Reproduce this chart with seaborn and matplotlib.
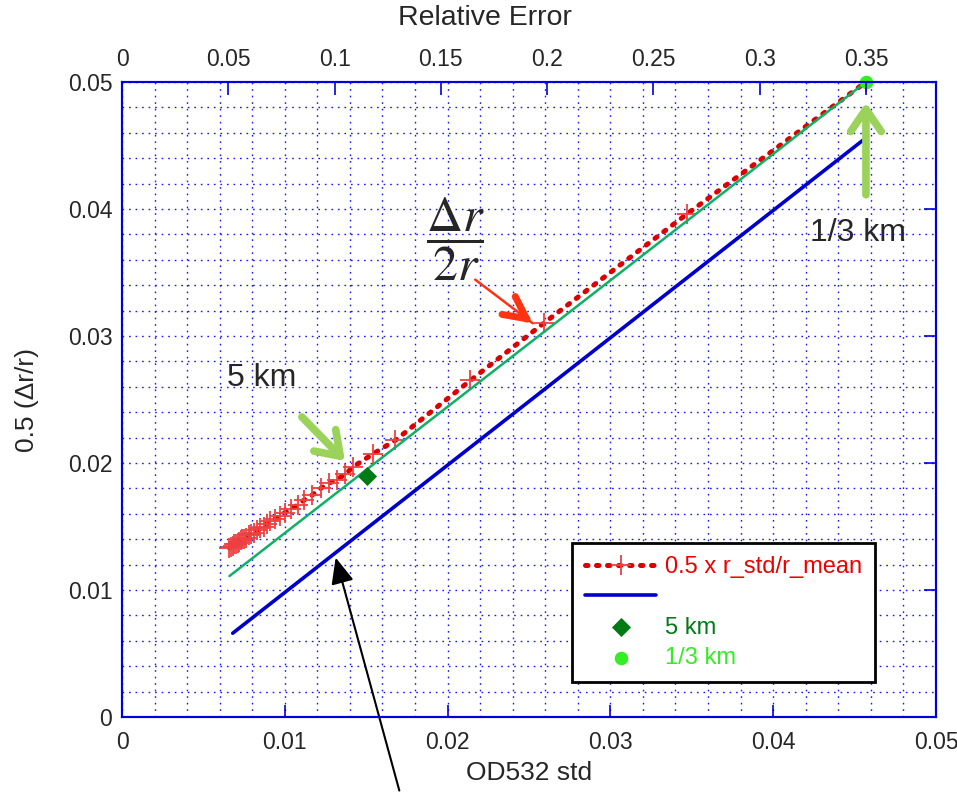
import matplotlib
matplotlib.use("Agg")
import matplotlib.pyplot as plt
import seaborn as sns

sns.set_style("white")
plt.rcParams["font.family"] = ["Liberation Sans", "DejaVu Sans"]

# values
red_x = [0.0066, 0.0067, 0.0068, 0.0069, 0.0070, 0.0071, 0.0072, 0.0073, 0.0074,
         0.0075, 0.0076, 0.0078, 0.0079, 0.0081, 0.0083, 0.0085, 0.0087, 0.0089,
         0.0091, 0.0094, 0.0097, 0.0100, 0.0104, 0.0108, 0.0112, 0.0117, 0.0122,
         0.0127, 0.0132, 0.0137, 0.0142, 0.0154, 0.0168, 0.0214, 0.0259, 0.0347,
         0.0457]
red_y = [0.0133, 0.0134, 0.0135, 0.0136, 0.0136, 0.0137, 0.0138, 0.0139, 0.0140,
         0.0140, 0.0141, 0.0143, 0.0144, 0.0145, 0.0147, 0.0149, 0.0150, 0.0152,
         0.0154, 0.0156, 0.0158, 0.0161, 0.0164, 0.0167, 0.0171, 0.0175, 0.0180,
         0.0184, 0.0187, 0.0191, 0.0197, 0.0207, 0.0218, 0.0265, 0.0310, 0.0396,
         0.0500]
blue_x = [0.0068, 0.0455]
blue_y = [0.0066, 0.0454]
green_x = [0.0066, 0.0457]
green_y = [0.0111, 0.0500]
km5_x = [0.01505]
km5_y = [0.0190]
km13_x = [0.0457]
km13_y = [0.0500]

bottom_ticks = [0, 0.01, 0.02, 0.03, 0.04, 0.05]
bottom_labels = ["0", "0.01", "0.02", "0.03", "0.04", "0.05"]
top_ticks = [0, 0.05, 0.1, 0.15, 0.2, 0.25, 0.3, 0.35]
top_labels = ["0", "0.05", "0.1", "0.15", "0.2", "0.25", "0.3", "0.35"]
grid_step = 0.002

fig = plt.figure(figsize=(9.57, 7.93), dpi=100)
ax = fig.add_axes([0.1275, 0.0958, 0.8505, 0.8008])

sns.lineplot(x=red_x, y=red_y, ax=ax, color="#dd0000", lw=3.6,
             linestyle=(0, (0.5, 1.7)), marker="+", markersize=15,
             mec="#ee4040", mew=1.3, sort=False)
red_line = ax.lines[-1]
red_line.set_dash_capstyle("round")
sns.lineplot(x=blue_x, y=blue_y, ax=ax, color="#0000cc", lw=2.6)
blue_line = ax.lines[-1]
sns.lineplot(x=green_x, y=green_y, ax=ax, color="#10b064", lw=1.8)
sns.scatterplot(x=km5_x, y=km5_y, ax=ax, marker="D", s=95, color="#007a14",
                edgecolor="#007a14", linewidth=0, zorder=5)
d_pts = ax.collections[-1]
sns.scatterplot(x=km13_x, y=km13_y, ax=ax, marker="o", s=95, color="#33ee22",
                edgecolor="#33ee22", linewidth=0, zorder=5, clip_on=False)
c_pts = ax.collections[-1]

ax.set_xlim(0, 0.05)
ax.set_ylim(0, 0.05)
ax.set_xticks(bottom_ticks)
ax.set_xticklabels(bottom_labels)
ax.set_yticks(bottom_ticks)
ax.set_yticklabels(bottom_labels)
minor = [i * grid_step for i in range(26)]
ax.set_xticks(minor, minor=True)
ax.set_yticks(minor, minor=True)
ax.grid(True, which="both", color="#1a1aee", lw=1.0, linestyle=(0, (1.2, 3.5)))
ax.set_axisbelow(True)
ax.tick_params(which="major", direction="in", length=9, width=1.2, color="#0000dd",
               labelsize=16.5, pad=10, right=True)
ax.tick_params(axis="y", pad=7)
ax.tick_params(which="minor", length=0)
for s in ax.spines.values():
    s.set_color("#0000dd")
    s.set_linewidth(1.5)
ax.set_xlabel("OD532 std", fontsize=19, labelpad=5)
ax.set_ylabel("0.5 (\u0394r/r)", fontsize=19, labelpad=21)

ax2 = ax.twiny()
ax2.set_xlim(0, 0.3829)
ax2.set_xticks(top_ticks)
ax2.set_xticklabels(top_labels)
ax2.tick_params(direction="in", length=9, width=1.2, color="#0000dd",
                labelsize=16.5, pad=8)
for s in ax2.spines.values():
    s.set_color("#0000dd")
    s.set_linewidth(1.5)
ax2.set_xlabel("Relative Error", fontsize=20.5, labelpad=11)
ax2.xaxis.set_label_coords(0.446, 1.0 + 51 / 635)
ax2.xaxis.label.set_va("bottom")
ax2.grid(False)

# annotations
ax.text(0.02045, 0.0376, r"$\dfrac{\Delta r}{2r}$", fontsize=36,
        math_fontfamily="stix", ha="center", va="center")
ax.annotate("", xy=(0.02537, 0.03087), xytext=(0.02156, 0.03457),
            arrowprops=dict(arrowstyle="-", color="#ff3311", lw=1.8))
ax.annotate("", xy=(0.02537, 0.03087), xytext=(0.0246, 0.0316),
            arrowprops=dict(arrowstyle="->,head_length=0.8,head_width=0.4",
                            color="#ff3311", lw=5, mutation_scale=20))
ax.text(0.0086, 0.0267, "5 km", fontsize=23, ha="center", va="center")
ax.annotate("", xy=(0.01382, 0.0200), xytext=(0.01093, 0.02378),
            arrowprops=dict(arrowstyle="->,head_length=0.8,head_width=0.55",
                            color="#9bd35a", lw=5.5, mutation_scale=20))
ax.text(0.0452, 0.0381, "1/3 km", fontsize=23, ha="center", va="center")
ax.annotate("", xy=(0.0457, 0.0486), xytext=(0.0457, 0.0409),
            arrowprops=dict(arrowstyle="->,head_length=0.8,head_width=0.55",
                            color="#9bd35a", lw=5.5, mutation_scale=20))
ax.annotate("", xy=(0.01308, 0.01276), xytext=(0.01708, -0.0060),
            annotation_clip=False,
            arrowprops=dict(arrowstyle="-|>,head_length=0.8,head_width=0.35",
                            color="black", lw=1.5, mutation_scale=20))

leg = ax.legend([red_line, blue_line, d_pts, c_pts],
                ["0.5 x r_std/r_mean", "", "5 km", "1/3 km"],
                loc="upper left", bbox_to_anchor=(0.553, 0.274), fontsize=17,
                frameon=True, fancybox=False, framealpha=1, edgecolor="black",
                handlelength=3.0, handletextpad=0.4, labelspacing=0.35,
                borderpad=0.55, borderaxespad=0)
leg.get_frame().set_linewidth(2)
for t, c in zip(leg.get_texts(), ["#ee0000", "#0000cc", "#007a14", "#33ee22"]):
    t.set_color(c)

fig.savefig("out.png", dpi=100)
